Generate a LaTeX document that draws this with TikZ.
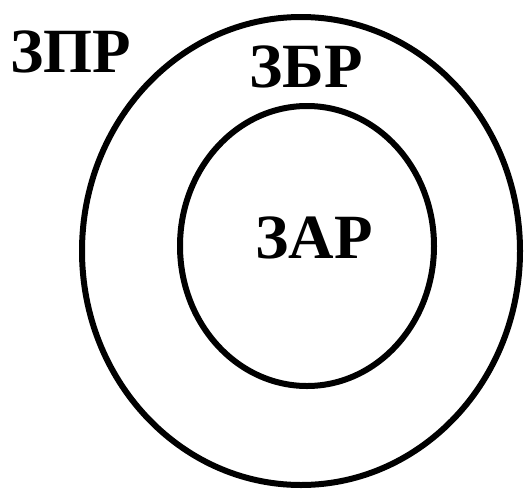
\documentclass[tikz,border=0pt]{standalone}
\usepackage{fontspec}
\setmainfont{Liberation Serif}
\begin{document}
\begin{tikzpicture}[x=1pt,y=-1pt,
  ring/.style={draw=black,line width=6pt},
  lbl/.style={font=\bfseries\fontsize{63}{63}\selectfont,inner sep=0pt,anchor=base}]
\useasboundingbox[fill=white] (0,0) rectangle (530,488);
\draw[ring] (301,251) ellipse [x radius=219, y radius=234];
\draw[ring] (307,246) ellipse [x radius=127, y radius=140];
\node[lbl] (zpr) at (71,72) {ЗПР};
\node[lbl] (zbr) at (306,87) {ЗБР};
\node[lbl] (zar) at (314,258) {ЗАР};
\end{tikzpicture}
\end{document}
